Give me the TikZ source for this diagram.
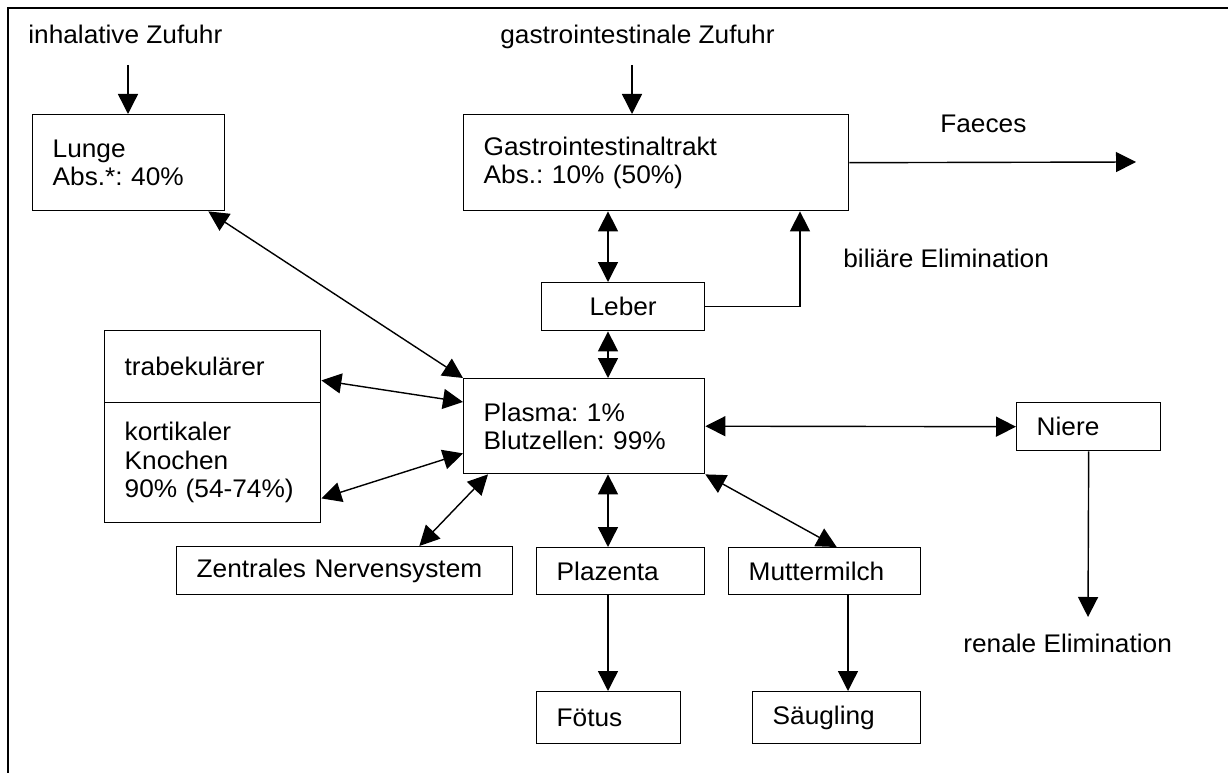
\documentclass[tikz,border=0pt]{standalone}
\usepackage{fontspec}
\setmainfont{Liberation Sans}[FakeStretch=1.03]
\usetikzlibrary{arrows.meta,calc}
\frenchspacing

\begin{document}
\begin{tikzpicture}[x=0.02cm, y=-0.02cm, >={Triangle[length=4mm,width=4mm]},
  every node/.style={font=\fontsize{14.5}{16.2}\selectfont},
  box/.style={draw, line width=0.8pt, anchor=north west, inner xsep=4mm, inner ysep=0pt, align=left},
  lbl/.style={anchor=base west, inner sep=0pt},
  link/.style={line width=0.8pt}]
  \useasboundingbox (0,0) rectangle (1228,773);
  \draw[line width=1.2pt] (8,773) -- (8,8) -- (1228,8);

  \node[box, minimum width=3.84cm, minimum height=1.92cm, text width=3.04cm] (lunge) at (32,114) {Lunge\\Abs.*: 40\%};
  \node[box, minimum width=7.7cm, minimum height=1.92cm, text width=6.9cm] (gastro) at (463,114) {Gastrointestinaltrakt\\Abs.: 10\% (50\%)};
  \node[box, minimum width=3.26cm, minimum height=0.96cm, text width=2.46cm, align=center] (leber) at (541,282) {Leber};
  \node[box, minimum width=4.82cm, minimum height=1.9cm, text width=4.02cm] (plasma) at (463,378) {Plasma: 1\%\\Blutzellen: 99\%};
  \node[box, minimum width=4.32cm, minimum height=1.44cm, text width=3.52cm] (trab) at (104,330) {trabekulärer};
  \node[box, minimum width=4.32cm, minimum height=2.4cm, text width=3.52cm] (kort) at (104,402) {kortikaler\\Knochen\\90\% (54-74\%)};
  \node[box, minimum width=6.72cm, minimum height=0.96cm, text width=5.92cm] (zns) at (176,546) {Zentrales Nervensystem};
  \node[box, minimum width=3.36cm, minimum height=0.94cm, text width=2.56cm] (plazenta) at (536,547) {Plazenta};
  \node[box, minimum width=3.84cm, minimum height=0.94cm, text width=3.04cm] (milch) at (728,547) {Muttermilch};
  \node[box, minimum width=2.88cm, minimum height=1.04cm, text width=2.08cm] (foetus) at (536,691) {Fötus};
  \node[box, minimum width=3.36cm, minimum height=1.04cm, text width=2.56cm] (saeugling) at (752,691) {Säugling};
  \node[box, minimum width=2.88cm, minimum height=0.96cm, text width=2.08cm] (niere) at (1016,402) {Niere};

  \node[lbl] (inh) at (28,44) {inhalative Zufuhr};
  \node[lbl] (gi) at (500,44) {gastrointestinale Zufuhr};
  \node[lbl] (faeces) at (940,133) {Faeces};
  \node[lbl] (biliaer) at (843,268) {biliäre Elimination};
  \node[lbl] (renal) at (963,652) {renale Elimination};

  \coordinate (inhIn) at (128,65);
  \coordinate (giIn) at (632,65);
  \coordinate (faecOut) at (1136,162);
  \coordinate (renOut) at (1088,617);
  \coordinate (ax) at (608,0);
  \coordinate (bil) at (800,0);
  \coordinate (mx) at (848,0);

  \draw[link,->] (inhIn) -- (inhIn |- lunge.north);
  \draw[link,->] (giIn) -- (giIn |- gastro.north);
  \draw[link,->] (gastro.east) -- (faecOut);
  \draw[link,<->] (ax |- gastro.south) -- (ax |- leber.north);
  \draw[link,->] (leber.east) -| (bil |- gastro.south);
  \draw[link,<->] (ax |- leber.south) -- (ax |- plasma.north);
  \draw[link,<->] ($(lunge.south east)+(-17,0)$) -- (plasma.north west);
  \draw[link,<->] ($(trab.south east)+(0,-23)$) -- ($(plasma.north west)+(0,24)$);
  \draw[link,<->] ($(kort.south east)+(0,-25)$) -- ($(plasma.south west)+(0,-21)$);
  \draw[link,<->] ($(zns.north east)+(-94,0)$) -- ($(plasma.south west)+(25,0)$);
  \draw[link,<->] (ax |- plasma.south) -- (ax |- plazenta.north);
  \draw[link,<->] (plasma.south east) -- ($(milch.north)+(12,0)$);
  \draw[link,<->] (plasma.east) -- (niere.west);
  \draw[link,->] (ax |- plazenta.south) -- (ax |- foetus.north);
  \draw[link,->] (mx |- milch.south) -- (mx |- saeugling.north);
  \draw[link,->] (niere.south) -- (renOut);
\end{tikzpicture}
\end{document}
